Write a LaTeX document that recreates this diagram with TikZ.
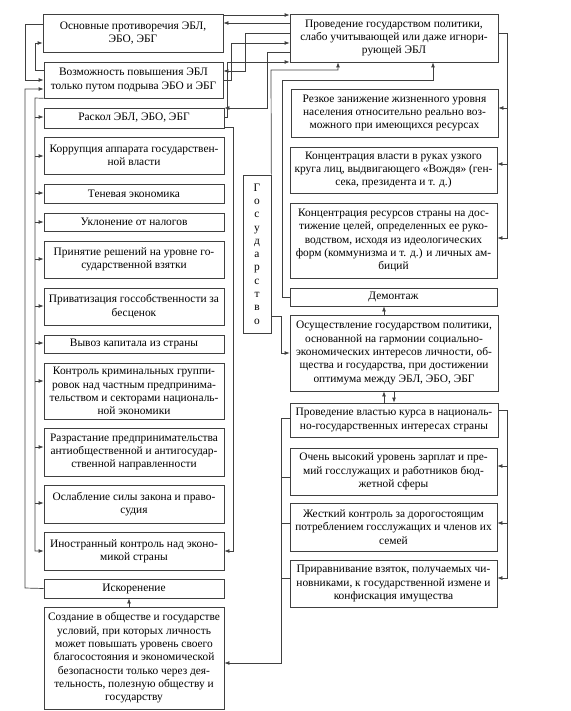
\documentclass[tikz,border=0pt]{standalone}
\usepackage{fontspec}
\setmainfont{Liberation Serif}
\usetikzlibrary{arrows.meta}
\newcommand\mybox[6]{\node[box, minimum width={#4pt-#2pt}, minimum height={#5pt-#3pt}] (#1) at ({(#2+#4)/2},{(#3+#5)/2}) {#6};}
\begin{document}
\begin{tikzpicture}[x=1pt,y=-1pt,
  box/.style={draw=black!75, line width=0.7pt, inner sep=0pt, align=center, font=\fontsize{11.4}{13.3}\selectfont},
  ln/.style={draw=black!75, line width=0.7pt},
  arr/.style={ln, -{Latex[length=5pt,width=3.8pt]}}]
\useasboundingbox (0,0) rectangle (570,711);
% left column
\mybox{b1}{43}{14}{223}{52}{Основные противоречия ЭБЛ,\\ЭБО, ЭБГ}
\mybox{b2}{44}{62}{223}{98}{Возможность повышения ЭБЛ\\только путом подрыва ЭБО и ЭБГ}
\mybox{b3}{44}{108}{224}{128}{Раскол ЭБЛ, ЭБО, ЭБГ}
\mybox{c1}{44}{137}{224}{174}{Коррупция аппарата государствен-\\ной власти}
\mybox{c2}{44}{184}{224}{203}{Теневая экономика}
\mybox{c3}{44}{213}{224}{231}{Уклонение от налогов}
\mybox{c4}{44}{241}{224}{278}{Принятие решений на уровне го-\\сударственной взятки}
\mybox{c5}{44}{288}{224}{325}{Приватизация госсобственности за\\бесценок}
\mybox{c6}{44}{335}{224}{353}{Вывоз капитала из страны}
\mybox{c7}{44}{363}{224}{419}{Контроль криминальных группи-\\ровок над частным предпринима-\\тельством и секторами националь-\\ной экономики}
\mybox{c8}{44}{428}{224}{476}{Разрастание предпринимательства\\антиобщественной и антигосудар-\\ственной направленности}
\mybox{c9}{44}{485}{224}{523}{Ослабление силы закона и право-\\судия}
\mybox{c10}{44}{532}{224}{570}{Иностранный контроль над эконо-\\микой страны}
\mybox{I}{44}{579}{224}{598}{Искоренение}
\mybox{S}{44}{607}{224}{709}{Создание в обществе и государстве\\условий, при которых личность\\может повышать уровень своего\\благосостояния и экономической\\безопасности только через дея-\\тельность, полезную обществу и\\государству}
% middle
\mybox{G}{243}{175}{271}{333}{Г\\о\\с\\у\\д\\а\\р\\с\\т\\в\\о}
% right column
\mybox{P}{290}{14}{498}{62}{Проведение государством политики,\\слабо учитывающей или даже игнори-\\рующей ЭБЛ}
\mybox{R1}{291}{89}{498}{137}{Резкое занижение жизненного уровня\\населения относительно реально воз-\\можного при имеющихся ресурсах}
\mybox{R2}{290}{147}{497}{193}{Концентрация власти в руках узкого\\круга лиц, выдвигающего «Вождя» (ген-\\сека, президента и т. д.)}
\mybox{R3}{290}{203}{497}{278}{Концентрация ресурсов страны на дос-\\тижение целей, определенных ее руко-\\водством, исходя из идеологических\\форм (коммунизма и т. д.) и личных ам-\\биций}
\mybox{D}{290}{288}{497}{306}{Демонтаж}
\mybox{O}{290}{315}{498}{391}{Осуществление государством политики,\\основанной на гармонии социально-\\экономических интересов личности, об-\\щества и государства, при достижении\\оптимума между ЭБЛ, ЭБО, ЭБГ}
\mybox{K}{290}{403}{498}{437}{Проведение властью курса в националь-\\но-государственных интересах страны}
\mybox{V}{290}{448}{497}{495}{Очень высокий уровень зарплат и пре-\\мий госслужащих и работников бюд-\\жетной сферы}
\mybox{Zh}{290}{503}{497}{551}{Жесткий контроль за дорогостоящим\\потреблением госслужащих и членов их\\семей}
\mybox{Pr}{290}{560}{497}{607}{Приравнивание взяток, получаемых чи-\\новниками, к государственной измене и\\конфискация имущества}
% connectors between left top boxes and P
\draw[arr] (b1.east |- 0,15) -- (P.west |- 0,15);
\draw[arr] (P.west |- 0,23) -- (b1.east |- 0,23);
\draw[arr] (P.west |- 0,33) -- (245,33) -- (245,71) -- (b2.east |- 0,71);
\draw[arr] (b2.east |- 0,80) -- (231,80) -- (231,43) -- (P.west |- 0,43);
\draw[arr] (P.west |- 0,52) -- (267,52) -- (267,108) -- (b3.east |- 0,108);
\draw[arr] (b3.east |- 0,117) -- (227,117) -- (227,62) -- (P.west |- 0,62);
% right bracket of the list
\draw[arr] (b3.east |- 0,127) -- (233,127) -- (233,551) -- (c10.east |- 0,551);
% left side
\draw[arr] (b1.west |- 0,24) -- (25,24) -- (25,80) -- (b2.west |- 0,80);
\draw[arr] (b2.west |- 0,70) -- (35,70) -- (35,43) -- (b1.west |- 0,43);
\draw[arr] (I.west) -- (25,588) -- (25,89) -- (b2.west |- 0,89);
\draw[arr] (b2.south west) -- (35,98) -- (35,551) -- (c10.west |- 0,551);
\foreach \n/\y in {b3/117,c1/156,c2/193,c3/222,c4/259,c5/306,c6/343,c7/381,c8/447,c9/503}
  \draw[arr] (35,\y) -- (\n.west |- 0,\y);
\draw[arr] (S.north -| 129,0) -- (I.south -| 129,0);
% P to its sub-boxes
\draw[arr] (P.east |- 0,33) -- (507,33) -- (507,238) -- (R3.east |- 0,238);
\draw[arr] (507,108) -- (R1.east |- 0,108);
\draw[arr] (507,164) -- (R2.east |- 0,164);
% Gosudarstvo and Demontazh
\draw[arr] (D.west) -- (282,297) -- (282,80) -- (433,80) -- (P.south -| 433,0);
\draw[arr] (G.north east) -- (271,70) -- (338,70) -- (P.south -| 338,0);
\draw[arr] (G.east |- 0,316) -- (281,316) -- (281,353) -- (O.west |- 0,353);
\draw[arr] (O.north -| 384,0) -- (D.south -| 384,0);
\draw[arr] (K.north -| 384,0) -- (O.south -| 384,0);
\draw[arr] (O.south -| 394,0) -- (K.north -| 394,0);
% K group
\draw[arr] (K.east |- 0,410) -- (507,410) -- (507,578) -- (Pr.east |- 0,578);
\draw[arr] (507,466) -- (V.east |- 0,466);
\draw[arr] (507,523) -- (Zh.east |- 0,523);
\draw[arr] (K.west |- 0,418) -- (281,418) -- (281,663) -- (S.east |- 0,663);
\foreach \n/\y in {V/477,Zh/523,Pr/578}
  \draw[ln] (\n.west |- 0,\y) -- (281,\y);
\end{tikzpicture}
\end{document}
